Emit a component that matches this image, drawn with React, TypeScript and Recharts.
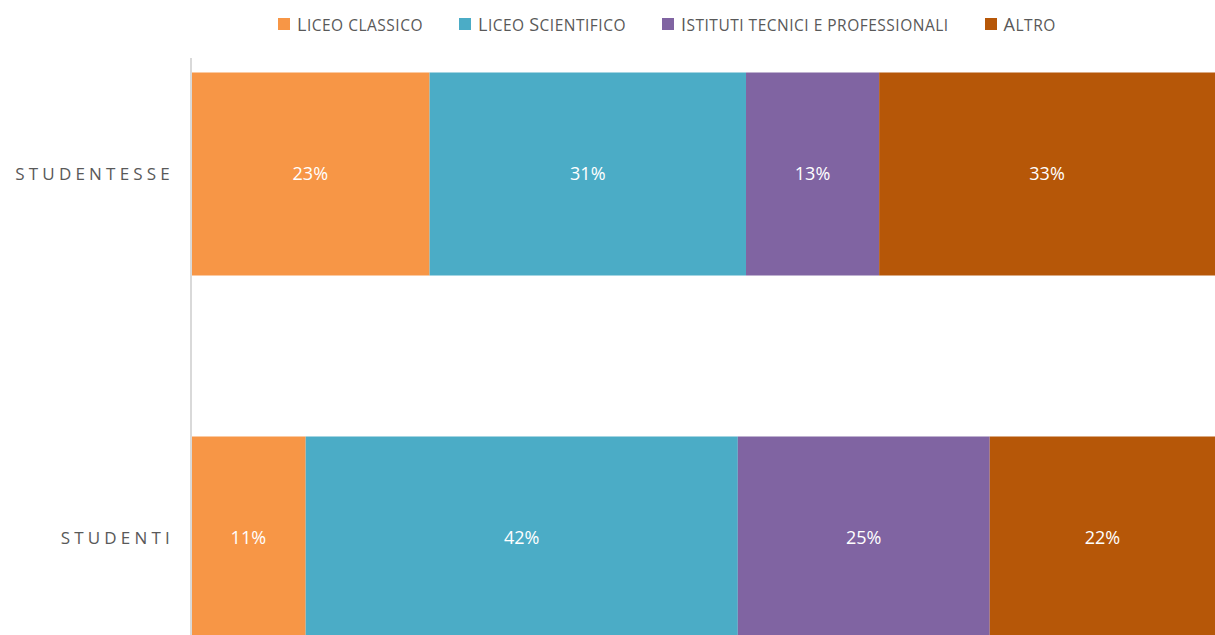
import React from 'react';
import { BarChart, Bar, XAxis, YAxis, Legend, LabelList } from 'recharts';

const categories = ['STUDENTESSE', 'STUDENTI'];
const liceoClassico = [23.3, 11.2];
const liceoScientifico = [30.9, 42.2];
const istitutiTecnici = [13.0, 24.6];
const altro = [32.8, 22.0];

const seriesNames = ['Liceo classico', 'Liceo Scientifico', 'Istituti tecnici e professionali', 'Altro'];
const seriesKeys = ['classico', 'scientifico', 'tecnici', 'altro'];
const seriesColors = ['#F79646', '#4BACC6', '#8064A2', '#B65708'];

const data = categories.map((name, i) => ({
  name,
  classico: liceoClassico[i],
  scientifico: liceoScientifico[i],
  tecnici: istitutiTecnici[i],
  altro: altro[i],
}));

const FONT = '"Open Sans", "Noto Sans", sans-serif';

const CategoryTick = (props: any) => {
  const { x, y, payload } = props;
  return (
    <text
      x={x - 9}
      y={y}
      dy={6}
      textAnchor="end"
      fill="#595959"
      fontSize={17}
      fontFamily={FONT}
      letterSpacing={4.2}
    >
      {payload.value}
    </text>
  );
};

// small caps: capitals at full size, lower case letters as smaller capitals
const SmallCaps = ({ text }: { text: string }) => {
  const runs: { t: string; big: boolean }[] = [];
  for (const ch of text) {
    const big = ch !== ' ' && ch === ch.toUpperCase();
    const last = runs[runs.length - 1];
    if (last && (last.big === big || ch === ' ')) last.t += ch;
    else runs.push({ t: ch, big });
  }
  return (
    <span style={{ letterSpacing: 0.5 }}>
      {runs.map((r, i) => (
        <span key={i} style={{ fontSize: r.big ? 18 : 15.5, textTransform: 'uppercase' }}>{r.t}</span>
      ))}
    </span>
  );
};

const LegendContent = () => (
  <div style={{ display: 'flex', alignItems: 'baseline', fontFamily: FONT, color: '#595959', whiteSpace: 'nowrap' }}>
    {seriesNames.map((n, i) => (
      <div key={n} style={{ display: 'flex', alignItems: 'center', marginRight: 36 }}>
        <span style={{ width: 12, height: 12, background: seriesColors[i], marginRight: 7, display: 'inline-block' }} />
        <SmallCaps text={n} />
      </div>
    ))}
  </div>
);

export default function App() {
  return (
    <div style={{ position: 'absolute', left: 0, top: 0, width: 1215, height: 635, overflow: 'hidden', background: '#fff' }}>
      <BarChart
        width={1215}
        height={720}
        data={data}
        layout="vertical"
        margin={{ top: 58, right: 0, bottom: 0.5, left: 0 }}
      >
        <XAxis type="number" domain={[0, 100]} hide />
        <YAxis
          type="category"
          dataKey="name"
          width={191}
          padding={{ top: -66.5, bottom: 0 }}
          axisLine={{ stroke: '#d9d9d9', strokeWidth: 2 }}
          tickLine={false}
          tick={<CategoryTick />}
        />
        <Legend
          verticalAlign="middle"
          align="center"
          content={<LegendContent />}
          wrapperStyle={{ top: 12, left: 278, width: 'auto' }}
        />
        {seriesKeys.map((k, i) => (
          <Bar key={k} dataKey={k} name={seriesNames[i]} stackId="a" fill={seriesColors[i]} barSize={203} isAnimationActive={false}>
            <LabelList
              dataKey={k}
              position="center"
              formatter={(v: any) => `${Math.round(Number(v))}%`}
              fill="#ffffff"
              fontSize={18}
              fontFamily={FONT}
            />
          </Bar>
        ))}
      </BarChart>
    </div>
  );
}
